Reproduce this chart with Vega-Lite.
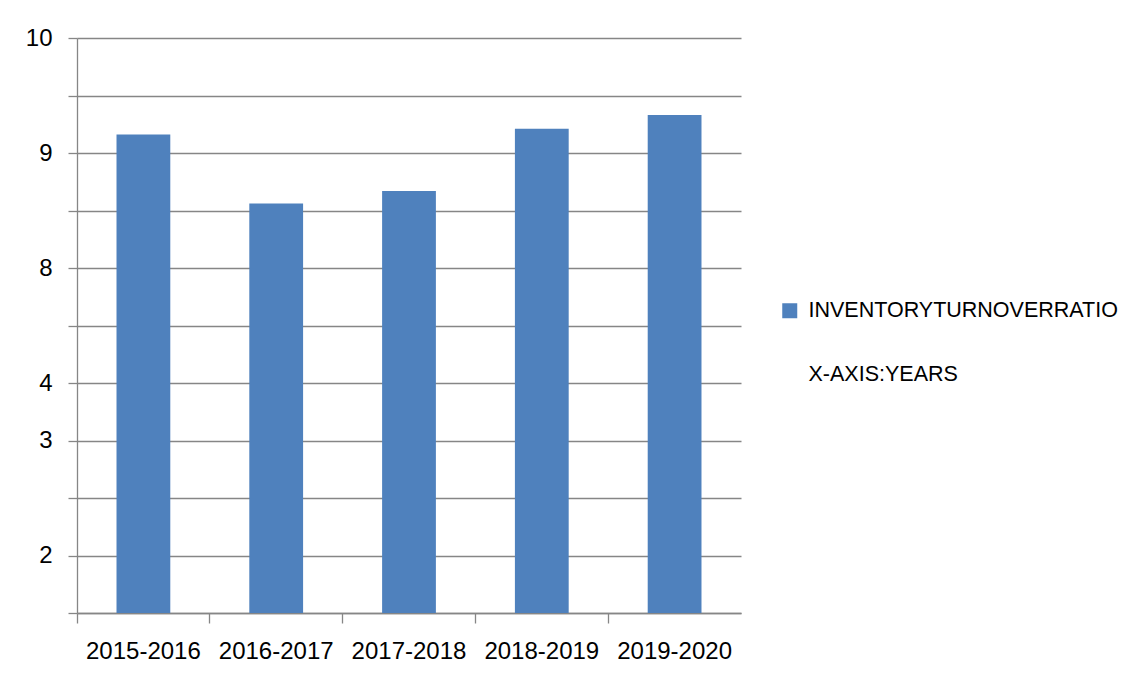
{
  "$schema": "https://vega.github.io/schema/vega-lite/v6.json",
  "autosize": "none",
  "width": 664,
  "height": 575,
  "padding": {"left": 77, "top": 38, "right": 407, "bottom": 62},
  "background": "white",
  "config": {
    "view": {"stroke": null},
    "font": "Liberation Sans",
    "axis": {
      "domainColor": "#868686",
      "tickColor": "#868686",
      "gridColor": "#868686",
      "domainWidth": 1.3,
      "tickWidth": 1.3,
      "gridWidth": 1.3,
      "labelColor": "#000000",
      "labelFont": "Liberation Sans",
      "labelFontSize": 24,
      "title": null
    }
  },
  "data": {
    "values": [
      {"year": "2015-2016", "value": 9.16, "series": "INVENTORYTURNOVERRATIO"},
      {"year": "2016-2017", "value": 8.56, "series": "INVENTORYTURNOVERRATIO"},
      {"year": "2017-2018", "value": 8.67, "series": "INVENTORYTURNOVERRATIO"},
      {"year": "2018-2019", "value": 9.21, "series": "INVENTORYTURNOVERRATIO"},
      {"year": "2019-2020", "value": 9.33, "series": "INVENTORYTURNOVERRATIO"}
    ]
  },
  "mark": {"type": "bar", "width": {"band": 0.405}},
  "encoding": {
    "x": {
      "field": "year",
      "type": "nominal",
      "sort": null,
      "scale": {"paddingInner": 0, "paddingOuter": 0},
      "axis": {
        "bandPosition": 0,
        "tickSize": 10,
        "labelPadding": 16,
        "labelAngle": 0,
        "labelOverlap": false,
        "labelBound": false,
        "grid": false
      }
    },
    "y": {
      "field": "value",
      "type": "quantitative",
      "scale": {
        "domain": [1, 2, 3, 4, 8, 9, 10],
        "range": [575, 517.5, 402.5, 345, 230, 115, 0],
        "zero": false,
        "nice": false
      },
      "axis": {
        "values": [1, 2, 2.5, 3, 4, 6, 8, 8.5, 9, 9.5, 10],
        "tickCount": 40,
        "labelExpr": "indexof([2,3,4,8,9,10], datum.value) >= 0 ? format(datum.value, 'd') : ''",
        "labelOverlap": false,
        "tickSize": 9,
        "labelPadding": 16,
        "grid": true
      }
    },
    "y2": {"datum": 1},
    "color": {
      "field": "series",
      "type": "nominal",
      "scale": {
        "domain": ["INVENTORYTURNOVERRATIO", "X-AXIS:YEARS"],
        "range": ["#4F81BD", "transparent"]
      },
      "legend": {
        "title": null,
        "orient": "none",
        "legendX": 702,
        "legendY": 262,
        "symbolType": "square",
        "symbolSize": 225,
        "symbolStrokeWidth": 0,
        "labelFont": "Liberation Sans",
        "labelFontSize": 21.5,
        "labelColor": "#000000",
        "labelOffset": 8,
        "rowPadding": 41,
        "labelLimit": 400
      }
    }
  }
}
